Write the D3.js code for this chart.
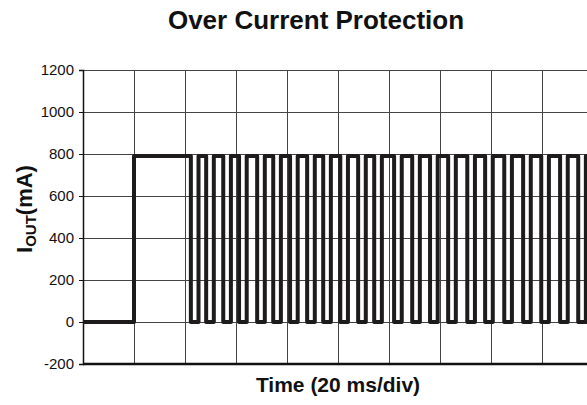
<!DOCTYPE html>
<html>
<head>
<meta charset="utf-8">
<script src="https://cdn.jsdelivr.net/npm/d3@7/dist/d3.min.js"></script>
<style>
  html, body { margin: 0; padding: 0; background: #fff; }
  svg { display: block; font-family: "Liberation Sans", Arial, sans-serif; }
</style>
</head>
<body>
<svg id="chart" width="587" height="405"></svg>
<script>
// Output current under a hard short: load applied at 20 ms, then hiccup cycling.
const timeTicks = [0, 20, 40, 60, 80, 100, 120, 140, 160, 180, 200];   // ms
const currentTicks = [-200, 0, 200, 400, 600, 800, 1000, 1200];        // mA

const onsetTime = 20;          // ms, load applied
const levels = [0, 790];       // mA, off / limited current
// Edges of each off interval while cycling (ms)
const fallTimes = [42.3, 48.3, 55.0, 61.2, 68.3, 74.6, 81.2, 87.9, 94.2, 100.9, 107.9, 114.2,
                   122.0, 129.1, 136.1, 143.2, 150.7, 157.7, 165.2, 172.6, 179.7, 187.1, 194.2];
const riseTimes = [45.3, 51.3, 58.0, 64.2, 71.3, 77.6, 84.2, 90.9, 97.2, 103.9, 110.9, 117.2,
                   125.0, 132.1, 139.1, 146.2, 153.7, 160.7, 168.2, 175.6, 182.7, 190.1, 197.2];

const svg = d3.select("#chart");
const m = { left: 83, top: 70, right: 593, bottom: 364 };

const x = d3.scaleLinear().domain([0, 200]).range([m.left, m.right]);
const y = d3.scaleLinear().domain([-200, 1200]).range([m.bottom, m.top]);

// Grid
const grid = svg.append("g").attr("stroke", "#444").attr("stroke-width", 1).attr("shape-rendering", "crispEdges");
grid.selectAll("line.h").data(currentTicks.filter(d => d > -200)).join("line")
  .attr("x1", m.left).attr("x2", m.right)
  .attr("y1", d => Math.round(y(d)) + 0.5).attr("y2", d => Math.round(y(d)) + 0.5);
grid.selectAll("line.v").data(timeTicks.filter(d => d > 0)).join("line")
  .attr("y1", m.top).attr("y2", m.bottom)
  .attr("x1", d => Math.round(x(d)) + 0.5).attr("x2", d => Math.round(x(d)) + 0.5);

// Y axis
const yAxis = svg.append("g")
  .attr("transform", `translate(${m.left},0)`)
  .call(d3.axisLeft(y).tickValues(currentTicks).tickSize(4).tickPadding(5).tickFormat(d => String(d)));
yAxis.select(".domain").attr("stroke", "#111").attr("stroke-width", 1.5);
yAxis.selectAll(".tick line").attr("stroke", "#111");
yAxis.selectAll("text").attr("font-size", 15).attr("fill", "#111")
  .attr("font-family", "Liberation Sans, Arial, sans-serif");

// X axis (baseline only)
svg.append("line")
  .attr("x1", m.left).attr("x2", m.right)
  .attr("y1", m.bottom).attr("y2", m.bottom)
  .attr("stroke", "#111").attr("stroke-width", 2.5);

// Waveform
const pts = [[0, levels[0]], [onsetTime, levels[0]], [onsetTime, levels[1]]];
fallTimes.forEach((f, i) => {
  pts.push([f, levels[1]], [f, levels[0]], [riseTimes[i], levels[0]], [riseTimes[i], levels[1]]);
});
pts.push([200, levels[1]]);

svg.append("path")
  .datum(pts)
  .attr("fill", "none")
  .attr("stroke", "#1e1b1c")
  .attr("stroke-width", 4)
  .attr("stroke-linejoin", "round")
  .attr("d", d3.line().x(d => x(d[0])).y(d => y(d[1])));

// Titles
svg.append("text")
  .attr("x", 316).attr("y", 29)
  .attr("text-anchor", "middle")
  .attr("font-size", 26).attr("font-weight", "bold").attr("fill", "#111")
  .text("Over Current Protection");

svg.append("text")
  .attr("x", 338).attr("y", 392)
  .attr("text-anchor", "middle")
  .attr("font-size", 21).attr("font-weight", "bold").attr("fill", "#111")
  .text("Time (20 ms/div)");

const yl = svg.append("text")
  .attr("transform", `translate(32,209) rotate(-90)`)
  .attr("text-anchor", "middle")
  .attr("font-size", 22).attr("font-weight", "bold").attr("fill", "#111");
yl.append("tspan").text("I");
yl.append("tspan").attr("font-size", 15).attr("dy", 4).text("OUT");
yl.append("tspan").attr("dy", -4).text("(mA)");
</script>
</body>
</html>
